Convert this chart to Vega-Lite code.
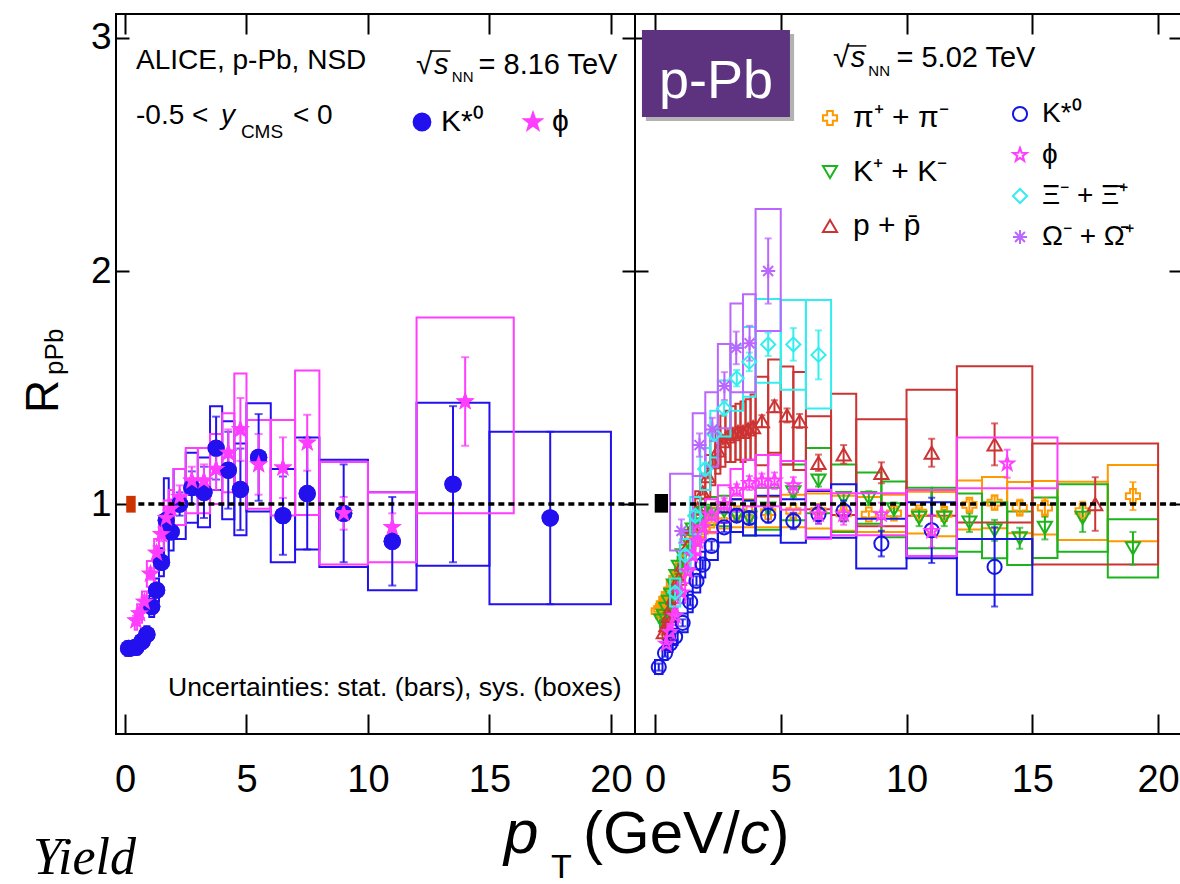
{
"$schema": "https://vega.github.io/schema/vega-lite/v6.json",
"background": "white",
"padding": {"left": 20, "top": 12, "right": 0, "bottom": 0},
"bounds": "flush",
"spacing": 0,
"config": {
  "view": {"stroke": "black", "strokeWidth": 2},
  "font": "Liberation Sans",
  "text": {"font": "Liberation Sans", "color": "black"},
  "axis": {"labelFont": "Liberation Sans", "labelColor": "black", "tickColor": "black", "domain": false, "grid": false},
  "legend": {"labelFont": "Liberation Sans", "labelColor": "black"}
},
"datasets": {
  "left": [
    {"s":"K*⁰","x":0.15,"y":0.38,"sl":0.368,"sh":0.392,"xl":0,"xh":0.3,"yl":0.35,"yh":0.41},
    {"s":"K*⁰","x":0.45,"y":0.385,"sl":0.373,"sh":0.397,"xl":0.3,"xh":0.6,"yl":0.355,"yh":0.415},
    {"s":"K*⁰","x":0.7,"y":0.41,"sl":0.395,"sh":0.425,"xl":0.6,"xh":0.8,"yl":0.38,"yh":0.44},
    {"s":"K*⁰","x":0.9,"y":0.44,"sl":0.425,"sh":0.455,"xl":0.8,"xh":1.0,"yl":0.405,"yh":0.475},
    {"s":"K*⁰","x":1.1,"y":0.56,"sl":0.54,"sh":0.58,"xl":1.0,"xh":1.2,"yl":0.515,"yh":0.605},
    {"s":"K*⁰","x":1.3,"y":0.63,"sl":0.61,"sh":0.65,"xl":1.2,"xh":1.4,"yl":0.58,"yh":0.68},
    {"s":"K*⁰","x":1.5,"y":0.75,"sl":0.725,"sh":0.775,"xl":1.4,"xh":1.6,"yl":0.69,"yh":0.81},
    {"s":"K*⁰","x":1.7,"y":0.93,"sl":0.9,"sh":0.96,"xl":1.6,"xh":1.8,"yl":0.75,"yh":1.11},
    {"s":"K*⁰","x":1.9,"y":0.88,"sl":0.85,"sh":0.91,"xl":1.8,"xh":2.0,"yl":0.8,"yh":0.96},
    {"s":"K*⁰","x":2.25,"y":1.0,"sl":0.95,"sh":1.05,"xl":2.0,"xh":2.5,"yl":0.85,"yh":1.15},
    {"s":"K*⁰","x":2.75,"y":1.07,"sl":1.0,"sh":1.14,"xl":2.5,"xh":3.0,"yl":0.92,"yh":1.22},
    {"s":"K*⁰","x":3.25,"y":1.05,"sl":0.94,"sh":1.16,"xl":3.0,"xh":3.5,"yl":0.9,"yh":1.2},
    {"s":"K*⁰","x":3.75,"y":1.24,"sl":1.105,"sh":1.375,"xl":3.5,"xh":4.0,"yl":1.06,"yh":1.42},
    {"s":"K*⁰","x":4.25,"y":1.145,"sl":0.98,"sh":1.31,"xl":4.0,"xh":4.5,"yl":0.935,"yh":1.355},
    {"s":"K*⁰","x":4.75,"y":1.063,"sl":0.888,"sh":1.238,"xl":4.5,"xh":5.0,"yl":0.866,"yh":1.26},
    {"s":"K*⁰","x":5.5,"y":1.2,"sl":1.014,"sh":1.386,"xl":5,"xh":6,"yl":0.968,"yh":1.432},
    {"s":"K*⁰","x":6.5,"y":0.95,"sl":0.782,"sh":1.118,"xl":6,"xh":7,"yl":0.75,"yh":1.15},
    {"s":"K*⁰","x":7.5,"y":1.045,"sl":0.805,"sh":1.285,"xl":7,"xh":8,"yl":0.805,"yh":1.285},
    {"s":"K*⁰","x":9,"y":0.96,"sl":0.75,"sh":1.17,"xl":8,"xh":10,"yl":0.73,"yh":1.19},
    {"s":"K*⁰","x":11,"y":0.84,"sl":0.65,"sh":1.03,"xl":10,"xh":12,"yl":0.63,"yh":1.05},
    {"s":"K*⁰","x":13.5,"y":1.085,"sl":0.75,"sh":1.42,"xl":12,"xh":15,"yl":0.735,"yh":1.435},
    {"s":"K*⁰","x":17.5,"y":0.94,"sl":0.57,"sh":1.31,"xl":15,"xh":20,"yl":0.57,"yh":1.31},
    {"s":"ϕ","x":0.45,"y":0.5,"sl":0.48,"sh":0.52,"xl":0.4,"xh":0.5,"yl":0.46,"yh":0.54},
    {"s":"ϕ","x":0.6,"y":0.53,"sl":0.51,"sh":0.55,"xl":0.5,"xh":0.7,"yl":0.49,"yh":0.57},
    {"s":"ϕ","x":0.8,"y":0.58,"sl":0.56,"sh":0.6,"xl":0.7,"xh":0.9,"yl":0.535,"yh":0.625},
    {"s":"ϕ","x":1.05,"y":0.7,"sl":0.675,"sh":0.725,"xl":0.9,"xh":1.2,"yl":0.645,"yh":0.755},
    {"s":"ϕ","x":1.3,"y":0.79,"sl":0.76,"sh":0.82,"xl":1.2,"xh":1.4,"yl":0.73,"yh":0.85},
    {"s":"ϕ","x":1.5,"y":0.87,"sl":0.84,"sh":0.9,"xl":1.4,"xh":1.6,"yl":0.8,"yh":0.94},
    {"s":"ϕ","x":1.7,"y":0.94,"sl":0.905,"sh":0.975,"xl":1.6,"xh":1.8,"yl":0.865,"yh":1.015},
    {"s":"ϕ","x":1.9,"y":0.98,"sl":0.94,"sh":1.02,"xl":1.8,"xh":2.0,"yl":0.9,"yh":1.06},
    {"s":"ϕ","x":2.25,"y":1.03,"sl":0.98,"sh":1.08,"xl":2.0,"xh":2.5,"yl":0.91,"yh":1.15},
    {"s":"ϕ","x":2.75,"y":1.1,"sl":1.04,"sh":1.16,"xl":2.5,"xh":3.0,"yl":0.96,"yh":1.24},
    {"s":"ϕ","x":3.25,"y":1.1,"sl":1.03,"sh":1.17,"xl":3.0,"xh":3.5,"yl":0.96,"yh":1.24},
    {"s":"ϕ","x":3.75,"y":1.15,"sl":1.06,"sh":1.24,"xl":3.5,"xh":4.0,"yl":1.0,"yh":1.3},
    {"s":"ϕ","x":4.25,"y":1.22,"sl":1.12,"sh":1.32,"xl":4.0,"xh":4.5,"yl":1.05,"yh":1.39},
    {"s":"ϕ","x":4.75,"y":1.32,"sl":1.185,"sh":1.455,"xl":4.5,"xh":5.0,"yl":1.08,"yh":1.56},
    {"s":"ϕ","x":5.5,"y":1.17,"sl":1.04,"sh":1.3,"xl":5,"xh":6,"yl":0.98,"yh":1.36},
    {"s":"ϕ","x":6.5,"y":1.156,"sl":1.026,"sh":1.286,"xl":6,"xh":7,"yl":0.951,"yh":1.361},
    {"s":"ϕ","x":7.5,"y":1.263,"sl":1.143,"sh":1.383,"xl":7,"xh":8,"yl":0.953,"yh":1.573},
    {"s":"ϕ","x":9,"y":0.96,"sl":0.89,"sh":1.03,"xl":8,"xh":10,"yl":0.74,"yh":1.18},
    {"s":"ϕ","x":11,"y":0.9,"sl":0.84,"sh":0.96,"xl":10,"xh":12,"yl":0.75,"yh":1.05},
    {"s":"ϕ","x":14,"y":1.44,"sl":1.25,"sh":1.63,"xl":12,"xh":16,"yl":0.96,"yh":1.8}
  ],
  "r1": [
    {"s":"π⁺ + π⁻","x":0.15,"y":0.54,"sl":0.53,"sh":0.55,"xl":0.1,"xh":0.2,"yl":0.51,"yh":0.57},
    {"s":"π⁺ + π⁻","x":0.25,"y":0.55,"sl":0.54,"sh":0.56,"xl":0.2,"xh":0.3,"yl":0.52,"yh":0.58},
    {"s":"π⁺ + π⁻","x":0.35,"y":0.57,"sl":0.56,"sh":0.58,"xl":0.3,"xh":0.4,"yl":0.54,"yh":0.6},
    {"s":"π⁺ + π⁻","x":0.45,"y":0.59,"sl":0.58,"sh":0.6,"xl":0.4,"xh":0.5,"yl":0.56,"yh":0.62},
    {"s":"π⁺ + π⁻","x":0.55,"y":0.61,"sl":0.6,"sh":0.62,"xl":0.5,"xh":0.6,"yl":0.575,"yh":0.645},
    {"s":"π⁺ + π⁻","x":0.65,"y":0.63,"sl":0.62,"sh":0.64,"xl":0.6,"xh":0.7,"yl":0.595,"yh":0.665},
    {"s":"π⁺ + π⁻","x":0.75,"y":0.66,"sl":0.65,"sh":0.67,"xl":0.7,"xh":0.8,"yl":0.625,"yh":0.695},
    {"s":"π⁺ + π⁻","x":0.85,"y":0.68,"sl":0.67,"sh":0.69,"xl":0.8,"xh":0.9,"yl":0.64,"yh":0.72},
    {"s":"π⁺ + π⁻","x":0.95,"y":0.7,"sl":0.69,"sh":0.71,"xl":0.9,"xh":1.0,"yl":0.66,"yh":0.74},
    {"s":"π⁺ + π⁻","x":1.1,"y":0.74,"sl":0.73,"sh":0.75,"xl":1.0,"xh":1.2,"yl":0.7,"yh":0.78},
    {"s":"π⁺ + π⁻","x":1.3,"y":0.79,"sl":0.78,"sh":0.8,"xl":1.2,"xh":1.4,"yl":0.745,"yh":0.835},
    {"s":"π⁺ + π⁻","x":1.5,"y":0.84,"sl":0.83,"sh":0.85,"xl":1.4,"xh":1.6,"yl":0.795,"yh":0.885},
    {"s":"π⁺ + π⁻","x":1.7,"y":0.87,"sl":0.86,"sh":0.88,"xl":1.6,"xh":1.8,"yl":0.82,"yh":0.92},
    {"s":"π⁺ + π⁻","x":1.9,"y":0.9,"sl":0.89,"sh":0.91,"xl":1.8,"xh":2.0,"yl":0.85,"yh":0.95},
    {"s":"π⁺ + π⁻","x":2.25,"y":0.93,"sl":0.92,"sh":0.94,"xl":2.0,"xh":2.5,"yl":0.875,"yh":0.985},
    {"s":"π⁺ + π⁻","x":2.75,"y":0.95,"sl":0.94,"sh":0.96,"xl":2.5,"xh":3.0,"yl":0.895,"yh":1.005},
    {"s":"π⁺ + π⁻","x":3.25,"y":0.96,"sl":0.95,"sh":0.97,"xl":3.0,"xh":3.5,"yl":0.9,"yh":1.02},
    {"s":"π⁺ + π⁻","x":3.75,"y":0.96,"sl":0.95,"sh":0.97,"xl":3.5,"xh":4.0,"yl":0.9,"yh":1.02},
    {"s":"π⁺ + π⁻","x":4.5,"y":0.965,"sl":0.955,"sh":0.975,"xl":4,"xh":5,"yl":0.9,"yh":1.03},
    {"s":"π⁺ + π⁻","x":5.5,"y":0.97,"sl":0.96,"sh":0.98,"xl":5,"xh":6,"yl":0.9,"yh":1.04},
    {"s":"π⁺ + π⁻","x":6.5,"y":0.97,"sl":0.955,"sh":0.985,"xl":6,"xh":7,"yl":0.895,"yh":1.045},
    {"s":"π⁺ + π⁻","x":7.5,"y":0.96,"sl":0.945,"sh":0.975,"xl":7,"xh":8,"yl":0.885,"yh":1.035},
    {"s":"π⁺ + π⁻","x":8.5,"y":0.955,"sl":0.94,"sh":0.97,"xl":8,"xh":9,"yl":0.88,"yh":1.03},
    {"s":"π⁺ + π⁻","x":9.5,"y":0.96,"sl":0.94,"sh":0.98,"xl":9,"xh":10,"yl":0.88,"yh":1.04},
    {"s":"π⁺ + π⁻","x":10.5,"y":0.963,"sl":0.943,"sh":0.983,"xl":10,"xh":11,"yl":0.873,"yh":1.053},
    {"s":"π⁺ + π⁻","x":11.5,"y":0.957,"sl":0.937,"sh":0.977,"xl":11,"xh":12,"yl":0.862,"yh":1.052},
    {"s":"π⁺ + π⁻","x":12.5,"y":0.996,"sl":0.971,"sh":1.021,"xl":12,"xh":13,"yl":0.891,"yh":1.101},
    {"s":"π⁺ + π⁻","x":13.5,"y":1.006,"sl":0.976,"sh":1.036,"xl":13,"xh":14,"yl":0.896,"yh":1.116},
    {"s":"π⁺ + π⁻","x":14.5,"y":0.984,"sl":0.949,"sh":1.019,"xl":14,"xh":15,"yl":0.874,"yh":1.094},
    {"s":"π⁺ + π⁻","x":15.5,"y":0.984,"sl":0.944,"sh":1.024,"xl":15,"xh":16,"yl":0.869,"yh":1.099},
    {"s":"π⁺ + π⁻","x":17,"y":0.97,"sl":0.93,"sh":1.01,"xl":16,"xh":18,"yl":0.845,"yh":1.095},
    {"s":"π⁺ + π⁻","x":19,"y":1.034,"sl":0.974,"sh":1.094,"xl":18,"xh":20,"yl":0.84,"yh":1.167},
    {"s":"K⁺ + K⁻","x":0.25,"y":0.5,"sl":0.49,"sh":0.51,"xl":0.2,"xh":0.3,"yl":0.47,"yh":0.53},
    {"s":"K⁺ + K⁻","x":0.35,"y":0.52,"sl":0.51,"sh":0.53,"xl":0.3,"xh":0.4,"yl":0.49,"yh":0.55},
    {"s":"K⁺ + K⁻","x":0.45,"y":0.55,"sl":0.54,"sh":0.56,"xl":0.4,"xh":0.5,"yl":0.515,"yh":0.585},
    {"s":"K⁺ + K⁻","x":0.55,"y":0.58,"sl":0.57,"sh":0.59,"xl":0.5,"xh":0.6,"yl":0.545,"yh":0.615},
    {"s":"K⁺ + K⁻","x":0.65,"y":0.61,"sl":0.6,"sh":0.62,"xl":0.6,"xh":0.7,"yl":0.575,"yh":0.645},
    {"s":"K⁺ + K⁻","x":0.75,"y":0.65,"sl":0.64,"sh":0.66,"xl":0.7,"xh":0.8,"yl":0.61,"yh":0.69},
    {"s":"K⁺ + K⁻","x":0.85,"y":0.69,"sl":0.68,"sh":0.7,"xl":0.8,"xh":0.9,"yl":0.65,"yh":0.73},
    {"s":"K⁺ + K⁻","x":0.95,"y":0.73,"sl":0.72,"sh":0.74,"xl":0.9,"xh":1.0,"yl":0.685,"yh":0.775},
    {"s":"K⁺ + K⁻","x":1.1,"y":0.78,"sl":0.77,"sh":0.79,"xl":1.0,"xh":1.2,"yl":0.735,"yh":0.825},
    {"s":"K⁺ + K⁻","x":1.3,"y":0.84,"sl":0.83,"sh":0.85,"xl":1.2,"xh":1.4,"yl":0.79,"yh":0.89},
    {"s":"K⁺ + K⁻","x":1.5,"y":0.89,"sl":0.88,"sh":0.9,"xl":1.4,"xh":1.6,"yl":0.835,"yh":0.945},
    {"s":"K⁺ + K⁻","x":1.7,"y":0.93,"sl":0.92,"sh":0.94,"xl":1.6,"xh":1.8,"yl":0.875,"yh":0.985},
    {"s":"K⁺ + K⁻","x":1.9,"y":0.96,"sl":0.95,"sh":0.97,"xl":1.8,"xh":2.0,"yl":0.9,"yh":1.02},
    {"s":"K⁺ + K⁻","x":2.25,"y":0.97,"sl":0.96,"sh":0.98,"xl":2.0,"xh":2.5,"yl":0.91,"yh":1.03},
    {"s":"K⁺ + K⁻","x":2.75,"y":0.97,"sl":0.96,"sh":0.98,"xl":2.5,"xh":3.0,"yl":0.905,"yh":1.035},
    {"s":"K⁺ + K⁻","x":3.25,"y":0.95,"sl":0.935,"sh":0.965,"xl":3.0,"xh":3.5,"yl":0.88,"yh":1.02},
    {"s":"K⁺ + K⁻","x":3.75,"y":0.94,"sl":0.925,"sh":0.955,"xl":3.5,"xh":4.0,"yl":0.865,"yh":1.015},
    {"s":"K⁺ + K⁻","x":4.5,"y":0.98,"sl":0.96,"sh":1.0,"xl":4,"xh":5,"yl":0.89,"yh":1.07},
    {"s":"K⁺ + K⁻","x":5.5,"y":1.05,"sl":1.03,"sh":1.07,"xl":5,"xh":6,"yl":0.93,"yh":1.17},
    {"s":"K⁺ + K⁻","x":6.5,"y":1.1,"sl":1.075,"sh":1.125,"xl":6,"xh":7,"yl":0.96,"yh":1.24},
    {"s":"K⁺ + K⁻","x":7.5,"y":1.025,"sl":1.0,"sh":1.05,"xl":7,"xh":8,"yl":0.88,"yh":1.17},
    {"s":"K⁺ + K⁻","x":8.5,"y":1.025,"sl":0.995,"sh":1.055,"xl":8,"xh":9,"yl":0.915,"yh":1.135},
    {"s":"K⁺ + K⁻","x":9.5,"y":0.977,"sl":0.947,"sh":1.007,"xl":9,"xh":10,"yl":0.857,"yh":1.097},
    {"s":"K⁺ + K⁻","x":10.5,"y":0.94,"sl":0.905,"sh":0.975,"xl":10,"xh":11,"yl":0.81,"yh":1.07},
    {"s":"K⁺ + K⁻","x":11.5,"y":0.94,"sl":0.905,"sh":0.975,"xl":11,"xh":12,"yl":0.81,"yh":1.07},
    {"s":"K⁺ + K⁻","x":12.5,"y":0.92,"sl":0.88,"sh":0.96,"xl":12,"xh":13,"yl":0.795,"yh":1.045},
    {"s":"K⁺ + K⁻","x":13.5,"y":0.887,"sl":0.842,"sh":0.932,"xl":13,"xh":14,"yl":0.767,"yh":1.007},
    {"s":"K⁺ + K⁻","x":14.5,"y":0.853,"sl":0.808,"sh":0.898,"xl":14,"xh":15,"yl":0.738,"yh":0.968},
    {"s":"K⁺ + K⁻","x":15.5,"y":0.898,"sl":0.848,"sh":0.948,"xl":15,"xh":16,"yl":0.768,"yh":1.028},
    {"s":"K⁺ + K⁻","x":17,"y":0.94,"sl":0.88,"sh":1.0,"xl":16,"xh":18,"yl":0.795,"yh":1.085},
    {"s":"K⁺ + K⁻","x":19,"y":0.81,"sl":0.74,"sh":0.88,"xl":18,"xh":20,"yl":0.685,"yh":0.935},
    {"s":"p + p̄","x":0.35,"y":0.45,"sl":0.44,"sh":0.46,"xl":0.3,"xh":0.4,"yl":0.42,"yh":0.48},
    {"s":"p + p̄","x":0.45,"y":0.48,"sl":0.47,"sh":0.49,"xl":0.4,"xh":0.5,"yl":0.445,"yh":0.515},
    {"s":"p + p̄","x":0.55,"y":0.52,"sl":0.51,"sh":0.53,"xl":0.5,"xh":0.6,"yl":0.485,"yh":0.555},
    {"s":"p + p̄","x":0.65,"y":0.56,"sl":0.55,"sh":0.57,"xl":0.6,"xh":0.7,"yl":0.52,"yh":0.6},
    {"s":"p + p̄","x":0.75,"y":0.6,"sl":0.59,"sh":0.61,"xl":0.7,"xh":0.8,"yl":0.56,"yh":0.64},
    {"s":"p + p̄","x":0.85,"y":0.64,"sl":0.63,"sh":0.65,"xl":0.8,"xh":0.9,"yl":0.595,"yh":0.685},
    {"s":"p + p̄","x":0.95,"y":0.68,"sl":0.67,"sh":0.69,"xl":0.9,"xh":1.0,"yl":0.63,"yh":0.73},
    {"s":"p + p̄","x":1.1,"y":0.74,"sl":0.73,"sh":0.75,"xl":1.0,"xh":1.2,"yl":0.685,"yh":0.795},
    {"s":"p + p̄","x":1.3,"y":0.82,"sl":0.81,"sh":0.83,"xl":1.2,"xh":1.4,"yl":0.76,"yh":0.88},
    {"s":"p + p̄","x":1.5,"y":0.9,"sl":0.89,"sh":0.91,"xl":1.4,"xh":1.6,"yl":0.835,"yh":0.965},
    {"s":"p + p̄","x":1.7,"y":0.98,"sl":0.97,"sh":0.99,"xl":1.6,"xh":1.8,"yl":0.905,"yh":1.055},
    {"s":"p + p̄","x":1.9,"y":1.05,"sl":1.04,"sh":1.06,"xl":1.8,"xh":2.0,"yl":0.97,"yh":1.13},
    {"s":"p + p̄","x":2.1,"y":1.12,"sl":1.11,"sh":1.13,"xl":2.0,"xh":2.2,"yl":1.03,"yh":1.21},
    {"s":"p + p̄","x":2.3,"y":1.18,"sl":1.165,"sh":1.195,"xl":2.2,"xh":2.4,"yl":1.08,"yh":1.28},
    {"s":"p + p̄","x":2.5,"y":1.23,"sl":1.215,"sh":1.245,"xl":2.4,"xh":2.6,"yl":1.13,"yh":1.33},
    {"s":"p + p̄","x":2.7,"y":1.27,"sl":1.255,"sh":1.285,"xl":2.6,"xh":2.8,"yl":1.16,"yh":1.38},
    {"s":"p + p̄","x":2.9,"y":1.29,"sl":1.275,"sh":1.305,"xl":2.8,"xh":3.0,"yl":1.18,"yh":1.4},
    {"s":"p + p̄","x":3.1,"y":1.3,"sl":1.28,"sh":1.32,"xl":3.0,"xh":3.2,"yl":1.18,"yh":1.42},
    {"s":"p + p̄","x":3.3,"y":1.31,"sl":1.29,"sh":1.33,"xl":3.2,"xh":3.4,"yl":1.19,"yh":1.43},
    {"s":"p + p̄","x":3.5,"y":1.31,"sl":1.29,"sh":1.33,"xl":3.4,"xh":3.6,"yl":1.18,"yh":1.44},
    {"s":"p + p̄","x":3.7,"y":1.32,"sl":1.3,"sh":1.34,"xl":3.6,"xh":3.8,"yl":1.19,"yh":1.45},
    {"s":"p + p̄","x":3.9,"y":1.33,"sl":1.31,"sh":1.35,"xl":3.8,"xh":4.0,"yl":1.19,"yh":1.47},
    {"s":"p + p̄","x":4.25,"y":1.356,"sl":1.331,"sh":1.381,"xl":4.0,"xh":4.5,"yl":1.166,"yh":1.546},
    {"s":"p + p̄","x":4.75,"y":1.42,"sl":1.395,"sh":1.445,"xl":4.5,"xh":5.0,"yl":1.22,"yh":1.62},
    {"s":"p + p̄","x":5.25,"y":1.38,"sl":1.35,"sh":1.41,"xl":5.0,"xh":5.5,"yl":1.17,"yh":1.59},
    {"s":"p + p̄","x":5.75,"y":1.356,"sl":1.326,"sh":1.386,"xl":5.5,"xh":6.0,"yl":1.146,"yh":1.566},
    {"s":"p + p̄","x":6.5,"y":1.177,"sl":1.142,"sh":1.212,"xl":6,"xh":7,"yl":0.977,"yh":1.377},
    {"s":"p + p̄","x":7.5,"y":1.213,"sl":1.173,"sh":1.253,"xl":7,"xh":8,"yl":0.953,"yh":1.473},
    {"s":"p + p̄","x":9,"y":1.134,"sl":1.089,"sh":1.179,"xl":8,"xh":10,"yl":0.904,"yh":1.364},
    {"s":"p + p̄","x":11,"y":1.22,"sl":1.16,"sh":1.28,"xl":10,"xh":12,"yl":0.95,"yh":1.49},
    {"s":"p + p̄","x":13.5,"y":1.256,"sl":1.166,"sh":1.346,"xl":12,"xh":15,"yl":0.921,"yh":1.591},
    {"s":"p + p̄","x":17.5,"y":1.0,"sl":0.885,"sh":1.115,"xl":15,"xh":20,"yl":0.74,"yh":1.26}
  ],
  "r2": [
    {"s":"K*⁰","x":0.15,"y":0.3,"sl":0.285,"sh":0.315,"xl":0,"xh":0.3,"yl":0.27,"yh":0.33},
    {"s":"K*⁰","x":0.4,"y":0.36,"sl":0.345,"sh":0.375,"xl":0.3,"xh":0.5,"yl":0.33,"yh":0.39},
    {"s":"K*⁰","x":0.6,"y":0.4,"sl":0.385,"sh":0.415,"xl":0.5,"xh":0.7,"yl":0.365,"yh":0.435},
    {"s":"K*⁰","x":0.8,"y":0.43,"sl":0.415,"sh":0.445,"xl":0.7,"xh":0.9,"yl":0.395,"yh":0.465},
    {"s":"K*⁰","x":1.1,"y":0.49,"sl":0.475,"sh":0.505,"xl":0.9,"xh":1.3,"yl":0.45,"yh":0.53},
    {"s":"K*⁰","x":1.4,"y":0.58,"sl":0.565,"sh":0.595,"xl":1.3,"xh":1.5,"yl":0.535,"yh":0.625},
    {"s":"K*⁰","x":1.65,"y":0.67,"sl":0.65,"sh":0.69,"xl":1.5,"xh":1.8,"yl":0.62,"yh":0.72},
    {"s":"K*⁰","x":1.9,"y":0.74,"sl":0.72,"sh":0.76,"xl":1.8,"xh":2.0,"yl":0.685,"yh":0.795},
    {"s":"K*⁰","x":2.25,"y":0.82,"sl":0.8,"sh":0.84,"xl":2.0,"xh":2.5,"yl":0.76,"yh":0.88},
    {"s":"K*⁰","x":2.75,"y":0.9,"sl":0.88,"sh":0.92,"xl":2.5,"xh":3.0,"yl":0.835,"yh":0.965},
    {"s":"K*⁰","x":3.25,"y":0.95,"sl":0.925,"sh":0.975,"xl":3.0,"xh":3.5,"yl":0.88,"yh":1.02},
    {"s":"K*⁰","x":3.75,"y":0.94,"sl":0.915,"sh":0.965,"xl":3.5,"xh":4.0,"yl":0.865,"yh":1.015},
    {"s":"K*⁰","x":4.5,"y":0.95,"sl":0.92,"sh":0.98,"xl":4,"xh":5,"yl":0.865,"yh":1.035},
    {"s":"K*⁰","x":5.5,"y":0.927,"sl":0.892,"sh":0.962,"xl":5,"xh":6,"yl":0.834,"yh":1.02},
    {"s":"K*⁰","x":6.5,"y":0.956,"sl":0.916,"sh":0.996,"xl":6,"xh":7,"yl":0.856,"yh":1.056},
    {"s":"K*⁰","x":7.5,"y":0.97,"sl":0.925,"sh":1.015,"xl":7,"xh":8,"yl":0.855,"yh":1.085},
    {"s":"K*⁰","x":9,"y":0.83,"sl":0.775,"sh":0.885,"xl":8,"xh":10,"yl":0.723,"yh":0.937},
    {"s":"K*⁰","x":11,"y":0.887,"sl":0.747,"sh":1.027,"xl":10,"xh":12,"yl":0.767,"yh":1.007},
    {"s":"K*⁰","x":13.5,"y":0.73,"sl":0.56,"sh":0.9,"xl":12,"xh":15,"yl":0.61,"yh":0.85},
    {"s":"ϕ","x":0.45,"y":0.4,"sl":0.385,"sh":0.415,"xl":0.4,"xh":0.5,"yl":0.37,"yh":0.43},
    {"s":"ϕ","x":0.6,"y":0.45,"sl":0.435,"sh":0.465,"xl":0.5,"xh":0.7,"yl":0.415,"yh":0.485},
    {"s":"ϕ","x":0.8,"y":0.52,"sl":0.505,"sh":0.535,"xl":0.7,"xh":0.9,"yl":0.48,"yh":0.56},
    {"s":"ϕ","x":1.05,"y":0.62,"sl":0.605,"sh":0.635,"xl":0.9,"xh":1.2,"yl":0.575,"yh":0.665},
    {"s":"ϕ","x":1.3,"y":0.71,"sl":0.695,"sh":0.725,"xl":1.2,"xh":1.4,"yl":0.66,"yh":0.76},
    {"s":"ϕ","x":1.5,"y":0.78,"sl":0.76,"sh":0.8,"xl":1.4,"xh":1.6,"yl":0.725,"yh":0.835},
    {"s":"ϕ","x":1.7,"y":0.84,"sl":0.82,"sh":0.86,"xl":1.6,"xh":1.8,"yl":0.78,"yh":0.9},
    {"s":"ϕ","x":1.9,"y":0.9,"sl":0.88,"sh":0.92,"xl":1.8,"xh":2.0,"yl":0.835,"yh":0.965},
    {"s":"ϕ","x":2.25,"y":0.95,"sl":0.93,"sh":0.97,"xl":2.0,"xh":2.5,"yl":0.88,"yh":1.02},
    {"s":"ϕ","x":2.75,"y":1.0,"sl":0.975,"sh":1.025,"xl":2.5,"xh":3.0,"yl":0.92,"yh":1.08},
    {"s":"ϕ","x":3.25,"y":1.06,"sl":1.035,"sh":1.085,"xl":3.0,"xh":3.5,"yl":0.97,"yh":1.15},
    {"s":"ϕ","x":3.75,"y":1.09,"sl":1.06,"sh":1.12,"xl":3.5,"xh":4.0,"yl":0.99,"yh":1.19},
    {"s":"ϕ","x":4.25,"y":1.1,"sl":1.07,"sh":1.13,"xl":4.0,"xh":4.5,"yl":0.99,"yh":1.21},
    {"s":"ϕ","x":4.75,"y":1.1,"sl":1.065,"sh":1.135,"xl":4.5,"xh":5.0,"yl":0.99,"yh":1.21},
    {"s":"ϕ","x":5.5,"y":1.08,"sl":1.045,"sh":1.115,"xl":5,"xh":6,"yl":0.975,"yh":1.185},
    {"s":"ϕ","x":6.5,"y":0.956,"sl":0.916,"sh":0.996,"xl":6,"xh":7,"yl":0.851,"yh":1.061},
    {"s":"ϕ","x":7.5,"y":0.956,"sl":0.911,"sh":1.001,"xl":7,"xh":8,"yl":0.866,"yh":1.046},
    {"s":"ϕ","x":9,"y":0.956,"sl":0.906,"sh":1.006,"xl":8,"xh":10,"yl":0.866,"yh":1.046},
    {"s":"ϕ","x":11,"y":0.884,"sl":0.814,"sh":0.954,"xl":10,"xh":12,"yl":0.777,"yh":1.06},
    {"s":"ϕ","x":14,"y":1.173,"sl":1.113,"sh":1.233,"xl":12,"xh":16,"yl":1.068,"yh":1.285},
    {"s":"Ξ⁻ + Ξ̄⁺","x":0.8,"y":0.62,"sl":0.6,"sh":0.64,"xl":0.6,"xh":1.0,"yl":0.56,"yh":0.68},
    {"s":"Ξ⁻ + Ξ̄⁺","x":1.2,"y":0.78,"sl":0.76,"sh":0.8,"xl":1.0,"xh":1.4,"yl":0.71,"yh":0.85},
    {"s":"Ξ⁻ + Ξ̄⁺","x":1.6,"y":0.95,"sl":0.93,"sh":0.97,"xl":1.4,"xh":1.8,"yl":0.87,"yh":1.03},
    {"s":"Ξ⁻ + Ξ̄⁺","x":2.0,"y":1.15,"sl":1.125,"sh":1.175,"xl":1.8,"xh":2.2,"yl":1.06,"yh":1.24},
    {"s":"Ξ⁻ + Ξ̄⁺","x":2.35,"y":1.3,"sl":1.27,"sh":1.33,"xl":2.2,"xh":2.5,"yl":1.2,"yh":1.4},
    {"s":"Ξ⁻ + Ξ̄⁺","x":2.75,"y":1.41,"sl":1.38,"sh":1.44,"xl":2.5,"xh":3.0,"yl":1.29,"yh":1.53},
    {"s":"Ξ⁻ + Ξ̄⁺","x":3.25,"y":1.54,"sl":1.505,"sh":1.575,"xl":3.0,"xh":3.5,"yl":1.4,"yh":1.68},
    {"s":"Ξ⁻ + Ξ̄⁺","x":3.75,"y":1.61,"sl":1.57,"sh":1.65,"xl":3.5,"xh":4.0,"yl":1.46,"yh":1.76},
    {"s":"Ξ⁻ + Ξ̄⁺","x":4.5,"y":1.685,"sl":1.635,"sh":1.735,"xl":4,"xh":5,"yl":1.52,"yh":1.88},
    {"s":"Ξ⁻ + Ξ̄⁺","x":5.5,"y":1.685,"sl":1.615,"sh":1.755,"xl":5,"xh":6,"yl":1.49,"yh":1.876},
    {"s":"Ξ⁻ + Ξ̄⁺","x":6.5,"y":1.64,"sl":1.535,"sh":1.745,"xl":6,"xh":7,"yl":1.41,"yh":1.876},
    {"s":"Ω⁻ + Ω̄⁺","x":1.05,"y":0.884,"sl":0.834,"sh":0.934,"xl":0.6,"xh":1.5,"yl":0.8,"yh":1.13},
    {"s":"Ω⁻ + Ω̄⁺","x":1.77,"y":1.253,"sl":1.203,"sh":1.303,"xl":1.5,"xh":2.0,"yl":1.12,"yh":1.39},
    {"s":"Ω⁻ + Ω̄⁺","x":2.28,"y":1.32,"sl":1.27,"sh":1.37,"xl":2.0,"xh":2.5,"yl":1.16,"yh":1.48},
    {"s":"Ω⁻ + Ω̄⁺","x":2.76,"y":1.506,"sl":1.446,"sh":1.566,"xl":2.5,"xh":3.0,"yl":1.325,"yh":1.687},
    {"s":"Ω⁻ + Ω̄⁺","x":3.23,"y":1.67,"sl":1.6,"sh":1.74,"xl":3.0,"xh":3.5,"yl":1.48,"yh":1.86},
    {"s":"Ω⁻ + Ω̄⁺","x":3.76,"y":1.69,"sl":1.615,"sh":1.765,"xl":3.5,"xh":4.0,"yl":1.48,"yh":1.9},
    {"s":"Ω⁻ + Ω̄⁺","x":4.5,"y":2.0,"sl":1.86,"sh":2.14,"xl":4,"xh":5,"yl":1.742,"yh":2.266}
  ]
},
"resolve": {"scale": {"color": "independent", "shape": "independent", "stroke": "independent"}},
"hconcat": [
 {
  "width": 519, "height": 720,
  "resolve": {"axis": {"x": "independent", "y": "independent"}},
  "layer": [
   {"data": {"name": "left"},
    "mark": {"type": "point", "filled": true, "size": 300, "opacity": 1},
    "encoding": {
      "x": {"field": "x", "type": "quantitative", "scale": {"domain": [-0.37, 20.99], "nice": false, "zero": false},
            "axis": {"orient": "top", "values": [0,5,10,15,20], "tickSize": -20, "tickWidth": 2, "labels": false, "domain": false, "grid": false, "title": null}},
      "y": {"field": "y", "type": "quantitative", "scale": {"domain": [0.0129, 3.103], "nice": false, "zero": false},
            "axis": {"orient": "right", "values": [1,2,3], "tickSize": -13, "tickWidth": 2, "labels": false, "domain": false, "grid": false, "title": null}},
      "color": {"field": "s", "type": "nominal", "scale": {"domain": ["K*⁰", "ϕ"], "range": ["#2211EE", "#FF3DFF"]},
                "legend": {"orient": "none", "legendX": 291, "legendY": 93, "direction": "horizontal", "title": null, "labelFontSize": 30, "symbolSize": 300, "labelOffset": 4, "columnPadding": 34, "padding": 0}},
      "shape": {"field": "s", "type": "nominal", "scale": {"domain": ["K*⁰", "ϕ"], "range": ["circle", "M0,-1.15L0.27,-0.373L1.094,-0.355L0.437,0.143L0.676,0.93L0,0.46L-0.676,0.93L-0.437,0.143L-1.094,-0.355L-0.27,-0.373Z"]},
                "legend": {"orient": "none", "legendX": 291, "legendY": 93, "direction": "horizontal", "title": null, "labelFontSize": 30, "symbolSize": 300, "labelOffset": 4, "columnPadding": 34, "padding": 0}}
    }},
   {"data": {"name": "left"},
    "mark": {"type": "rect", "filled": false, "strokeWidth": 2},
    "encoding": {
      "x": {"field": "xl", "type": "quantitative", "scale": {"domain": [-0.37, 20.99], "nice": false, "zero": false},
            "axis": {"orient": "bottom", "values": [0,5,10,15,20], "tickSize": -20, "tickWidth": 2, "labelFontSize": 38, "labelPadding": 47, "labelFlush": false, "labelOverlap": false, "domain": false, "grid": false, "title": null}},
      "x2": {"field": "xh"},
      "y": {"field": "yl", "type": "quantitative", "scale": {"domain": [0.0129, 3.103], "nice": false, "zero": false},
            "axis": {"orient": "left", "values": [1,2,3], "tickSize": -13, "tickWidth": 2, "labelFontSize": 37, "labelPadding": 18, "labelFlush": false, "domain": false, "grid": false, "title": null}},
      "y2": {"field": "yh"},
      "color": {"field": "s", "type": "nominal", "scale": {"domain": ["K*⁰", "ϕ"], "range": ["#2211EE", "#FF3DFF"]}, "legend": null}
    }},
   {"data": {"name": "left"},
    "mark": {"type": "errorbar", "thickness": 2, "ticks": {"size": 8, "thickness": 2}},
    "encoding": {
      "x": {"field": "x", "type": "quantitative", "scale": {"domain": [-0.37, 20.99], "nice": false, "zero": false}, "axis": null},
      "y": {"field": "sl", "type": "quantitative", "scale": {"domain": [0.0129, 3.103], "nice": false, "zero": false}, "axis": null},
      "y2": {"field": "sh"},
      "color": {"field": "s", "type": "nominal", "scale": {"domain": ["K*⁰", "ϕ"], "range": ["#2211EE", "#FF3DFF"]}, "legend": null}
    }},
   {"data": {"name": "left"},
    "mark": {"type": "point", "filled": true, "size": 300, "opacity": 1},
    "encoding": {
      "x": {"field": "x", "type": "quantitative", "scale": {"domain": [-0.37, 20.99], "nice": false, "zero": false}, "axis": null},
      "y": {"field": "y", "type": "quantitative", "scale": {"domain": [0.0129, 3.103], "nice": false, "zero": false}, "axis": null},
      "color": {"field": "s", "type": "nominal", "scale": {"domain": ["K*⁰", "ϕ"], "range": ["#2211EE", "#FF3DFF"]}, "legend": null},
      "shape": {"field": "s", "type": "nominal", "scale": {"domain": ["K*⁰", "ϕ"], "range": ["circle", "M0,-1.15L0.27,-0.373L1.094,-0.355L0.437,0.143L0.676,0.93L0,0.46L-0.676,0.93L-0.437,0.143L-1.094,-0.355L-0.27,-0.373Z"]}, "legend": null}
    }},
   {"data": {"values": [{}]},
    "mark": {"type": "rule", "color": "black", "strokeWidth": 3.5, "strokeDash": [6, 4]},
    "encoding": {
      "x": {"datum": 0.55, "type": "quantitative", "scale": {"domain": [-0.37, 20.99], "nice": false, "zero": false}, "axis": null},
      "x2": {"datum": 20.99},
      "y": {"datum": 1, "type": "quantitative", "scale": {"domain": [0.0129, 3.103], "nice": false, "zero": false}, "axis": null}
    }},
   {"data": {"values": [{}]},
    "mark": {"type": "rect", "color": "#CC3300"},
    "encoding": {
      "x": {"datum": 0.05, "type": "quantitative", "scale": {"domain": [-0.37, 20.99], "nice": false, "zero": false}, "axis": null},
      "x2": {"datum": 0.44},
      "y": {"datum": 0.963, "type": "quantitative", "scale": {"domain": [0.0129, 3.103], "nice": false, "zero": false}, "axis": null},
      "y2": {"datum": 1.035}
    }},
   {"data": {"values": [{}]},
    "mark": {"type": "rule", "color": "black", "strokeWidth": 1.5},
    "encoding": {
      "x": {"datum": 12.55, "type": "quantitative", "scale": {"domain": [-0.37, 20.99], "nice": false, "zero": false}, "axis": null},
      "x2": {"datum": 13.4},
      "y": {"datum": 2.944, "type": "quantitative", "scale": {"domain": [0.0129, 3.103], "nice": false, "zero": false}, "axis": null}
    }},
   {"data": {"values": [{}]},
    "mark": {"type": "text", "text": "ALICE, p-Pb, NSD", "align": "left", "baseline": "alphabetic", "fontSize": 28},
    "encoding": {
      "x": {"datum": 0.453, "type": "quantitative", "scale": {"domain": [-0.37, 20.99], "nice": false, "zero": false}, "axis": null},
      "y": {"datum": 2.867, "type": "quantitative", "scale": {"domain": [0.0129, 3.103], "nice": false, "zero": false}, "axis": null}
    }},
   {"data": {"values": [{}]},
    "mark": {"type": "text", "text": "-0.5 <", "align": "left", "baseline": "alphabetic", "fontSize": 28},
    "encoding": {
      "x": {"datum": 0.453, "type": "quantitative", "scale": {"domain": [-0.37, 20.99], "nice": false, "zero": false}, "axis": null},
      "y": {"datum": 2.631, "type": "quantitative", "scale": {"domain": [0.0129, 3.103], "nice": false, "zero": false}, "axis": null}
    }},
   {"data": {"values": [{}]},
    "mark": {"type": "text", "text": "y", "align": "left", "baseline": "alphabetic", "fontSize": 28, "fontStyle": "italic"},
    "encoding": {
      "x": {"datum": 3.95, "type": "quantitative", "scale": {"domain": [-0.37, 20.99], "nice": false, "zero": false}, "axis": null},
      "y": {"datum": 2.631, "type": "quantitative", "scale": {"domain": [0.0129, 3.103], "nice": false, "zero": false}, "axis": null}
    }},
   {"data": {"values": [{}]},
    "mark": {"type": "text", "text": "CMS", "align": "left", "baseline": "alphabetic", "fontSize": 19},
    "encoding": {
      "x": {"datum": 4.77, "type": "quantitative", "scale": {"domain": [-0.37, 20.99], "nice": false, "zero": false}, "axis": null},
      "y": {"datum": 2.571, "type": "quantitative", "scale": {"domain": [0.0129, 3.103], "nice": false, "zero": false}, "axis": null}
    }},
   {"data": {"values": [{}]},
    "mark": {"type": "text", "text": "< 0", "align": "left", "baseline": "alphabetic", "fontSize": 28},
    "encoding": {
      "x": {"datum": 6.91, "type": "quantitative", "scale": {"domain": [-0.37, 20.99], "nice": false, "zero": false}, "axis": null},
      "y": {"datum": 2.631, "type": "quantitative", "scale": {"domain": [0.0129, 3.103], "nice": false, "zero": false}, "axis": null}
    }},
   {"data": {"values": [{}]},
    "mark": {"type": "text", "text": "√", "align": "left", "baseline": "alphabetic", "fontSize": 30},
    "encoding": {
      "x": {"datum": 11.98, "type": "quantitative", "scale": {"domain": [-0.37, 20.99], "nice": false, "zero": false}, "axis": null},
      "y": {"datum": 2.845, "type": "quantitative", "scale": {"domain": [0.0129, 3.103], "nice": false, "zero": false}, "axis": null}
    }},
   {"data": {"values": [{}]},
    "mark": {"type": "text", "text": "s", "align": "left", "baseline": "alphabetic", "fontSize": 29, "fontStyle": "italic"},
    "encoding": {
      "x": {"datum": 12.72, "type": "quantitative", "scale": {"domain": [-0.37, 20.99], "nice": false, "zero": false}, "axis": null},
      "y": {"datum": 2.845, "type": "quantitative", "scale": {"domain": [0.0129, 3.103], "nice": false, "zero": false}, "axis": null}
    }},
   {"data": {"values": [{}]},
    "mark": {"type": "text", "text": "NN", "align": "left", "baseline": "alphabetic", "fontSize": 15},
    "encoding": {
      "x": {"datum": 13.45, "type": "quantitative", "scale": {"domain": [-0.37, 20.99], "nice": false, "zero": false}, "axis": null},
      "y": {"datum": 2.811, "type": "quantitative", "scale": {"domain": [0.0129, 3.103], "nice": false, "zero": false}, "axis": null}
    }},
   {"data": {"values": [{}]},
    "mark": {"type": "text", "text": "= 8.16 TeV", "align": "left", "baseline": "alphabetic", "fontSize": 29},
    "encoding": {
      "x": {"datum": 14.55, "type": "quantitative", "scale": {"domain": [-0.37, 20.99], "nice": false, "zero": false}, "axis": null},
      "y": {"datum": 2.845, "type": "quantitative", "scale": {"domain": [0.0129, 3.103], "nice": false, "zero": false}, "axis": null}
    }},
   {"data": {"values": [{}]},
    "mark": {"type": "text", "text": "Uncertainties: stat. (bars), sys. (boxes)", "align": "left", "baseline": "alphabetic", "fontSize": 26.5},
    "encoding": {
      "x": {"datum": 1.77, "type": "quantitative", "scale": {"domain": [-0.37, 20.99], "nice": false, "zero": false}, "axis": null},
      "y": {"datum": 0.176, "type": "quantitative", "scale": {"domain": [0.0129, 3.103], "nice": false, "zero": false}, "axis": null}
    }},
   {"data": {"values": [{}]},
    "mark": {"type": "text", "text": "R", "align": "left", "baseline": "alphabetic", "fontSize": 46, "angle": 270},
    "encoding": {
      "x": {"datum": -2.757, "type": "quantitative", "scale": {"domain": [-0.37, 20.99], "nice": false, "zero": false}, "axis": null},
      "y": {"datum": 1.391, "type": "quantitative", "scale": {"domain": [0.0129, 3.103], "nice": false, "zero": false}, "axis": null}
    }},
   {"data": {"values": [{}]},
    "mark": {"type": "text", "text": "pPb", "align": "left", "baseline": "alphabetic", "fontSize": 26, "angle": 270},
    "encoding": {
      "x": {"datum": -2.551, "type": "quantitative", "scale": {"domain": [-0.37, 20.99], "nice": false, "zero": false}, "axis": null},
      "y": {"datum": 1.554, "type": "quantitative", "scale": {"domain": [0.0129, 3.103], "nice": false, "zero": false}, "axis": null}
    }},
   {"data": {"values": [{}]},
    "mark": {"type": "text", "text": "p", "align": "left", "baseline": "alphabetic", "fontSize": 62, "fontStyle": "italic"},
    "encoding": {
      "x": {"datum": 15.6, "type": "quantitative", "scale": {"domain": [-0.37, 20.99], "nice": false, "zero": false}, "axis": null},
      "y": {"datum": -0.498, "type": "quantitative", "scale": {"domain": [0.0129, 3.103], "nice": false, "zero": false}, "axis": null}
    }},
   {"data": {"values": [{}]},
    "mark": {"type": "text", "text": "T", "align": "left", "baseline": "alphabetic", "fontSize": 34},
    "encoding": {
      "x": {"datum": 17.53, "type": "quantitative", "scale": {"domain": [-0.37, 20.99], "nice": false, "zero": false}, "axis": null},
      "y": {"datum": -0.605, "type": "quantitative", "scale": {"domain": [0.0129, 3.103], "nice": false, "zero": false}, "axis": null}
    }},
   {"data": {"values": [{}]},
    "mark": {"type": "text", "text": "(GeV/", "align": "left", "baseline": "alphabetic", "fontSize": 60},
    "encoding": {
      "x": {"datum": 18.85, "type": "quantitative", "scale": {"domain": [-0.37, 20.99], "nice": false, "zero": false}, "axis": null},
      "y": {"datum": -0.498, "type": "quantitative", "scale": {"domain": [0.0129, 3.103], "nice": false, "zero": false}, "axis": null}
    }},
   {"data": {"values": [{}]},
    "mark": {"type": "text", "text": "c", "align": "left", "baseline": "alphabetic", "fontSize": 60, "fontStyle": "italic"},
    "encoding": {
      "x": {"datum": 25.3, "type": "quantitative", "scale": {"domain": [-0.37, 20.99], "nice": false, "zero": false}, "axis": null},
      "y": {"datum": -0.498, "type": "quantitative", "scale": {"domain": [0.0129, 3.103], "nice": false, "zero": false}, "axis": null}
    }},
   {"data": {"values": [{}]},
    "mark": {"type": "text", "text": ")", "align": "left", "baseline": "alphabetic", "fontSize": 60},
    "encoding": {
      "x": {"datum": 26.53, "type": "quantitative", "scale": {"domain": [-0.37, 20.99], "nice": false, "zero": false}, "axis": null},
      "y": {"datum": -0.498, "type": "quantitative", "scale": {"domain": [0.0129, 3.103], "nice": false, "zero": false}, "axis": null}
    }},
   {"data": {"values": [{}]},
    "mark": {"type": "text", "text": "Yield", "align": "left", "baseline": "alphabetic", "fontSize": 52, "font": "Liberation Serif", "fontStyle": "italic"},
    "encoding": {
      "x": {"datum": -3.786, "type": "quantitative", "scale": {"domain": [-0.37, 20.99], "nice": false, "zero": false}, "axis": null},
      "y": {"datum": -0.588, "type": "quantitative", "scale": {"domain": [0.0129, 3.103], "nice": false, "zero": false}, "axis": null}
    }}
  ]
 },
 {
  "width": 547, "height": 720,
  "resolve": {"scale": {"color": "independent", "shape": "independent", "stroke": "independent"}, "axis": {"x": "independent", "y": "independent"}},
  "layer": [
   {"data": {"values": [{}]},
    "mark": {"type": "rect", "color": "#555555", "opacity": 0.45},
    "encoding": {
      "x": {"datum": -0.36, "type": "quantitative", "scale": {"domain": [-0.794, 20.95], "nice": false, "zero": false}, "axis": null},
      "x2": {"datum": 5.53},
      "y": {"datum": 3.017, "type": "quantitative", "scale": {"domain": [0.0129, 3.103], "nice": false, "zero": false}, "axis": null},
      "y2": {"datum": 2.644}
    }},
   {"data": {"values": [{}]},
    "mark": {"type": "rect", "color": "#5D3380"},
    "encoding": {
      "x": {"datum": -0.517, "type": "quantitative", "scale": {"domain": [-0.794, 20.95], "nice": false, "zero": false}, "axis": null},
      "x2": {"datum": 5.366},
      "y": {"datum": 3.034, "type": "quantitative", "scale": {"domain": [0.0129, 3.103], "nice": false, "zero": false}, "axis": null},
      "y2": {"datum": 2.661}
    }},
   {"data": {"values": [{}]},
    "mark": {"type": "text", "text": "p-Pb", "align": "center", "baseline": "alphabetic", "fontSize": 54, "color": "white"},
    "encoding": {
      "x": {"datum": 2.425, "type": "quantitative", "scale": {"domain": [-0.794, 20.95], "nice": false, "zero": false}, "axis": null},
      "y": {"datum": 2.743, "type": "quantitative", "scale": {"domain": [0.0129, 3.103], "nice": false, "zero": false}, "axis": null}
    }},
   {"data": {"name": "r1"},
    "resolve": {"axis": {"x": "independent", "y": "independent"}},
    "layer": [
     {"mark": {"type": "rect", "filled": false, "strokeWidth": 2},
      "encoding": {
        "x": {"field": "xl", "type": "quantitative", "scale": {"domain": [-0.794, 20.95], "nice": false, "zero": false},
              "axis": {"orient": "bottom", "values": [0,5,10,15,20], "tickSize": -20, "tickWidth": 2, "labelFontSize": 38, "labelPadding": 47, "labelFlush": false, "labelOverlap": false, "domain": false, "grid": false, "title": null}},
        "x2": {"field": "xh"},
        "y": {"field": "yl", "type": "quantitative", "scale": {"domain": [0.0129, 3.103], "nice": false, "zero": false},
              "axis": {"orient": "left", "values": [1,2,3], "tickSize": -13, "tickWidth": 2, "labels": false, "domain": false, "grid": false, "title": null}},
        "y2": {"field": "yh"},
        "color": {"field": "s", "type": "nominal", "scale": {"domain": ["p + p̄", "K⁺ + K⁻", "π⁺ + π⁻"], "range": ["#CC3333", "#1DB31D", "#FF9900"]}, "legend": null}
      }},
     {"mark": {"type": "errorbar", "thickness": 2, "ticks": {"size": 7, "thickness": 2}},
      "encoding": {
        "x": {"field": "x", "type": "quantitative", "scale": {"domain": [-0.794, 20.95], "nice": false, "zero": false}, "axis": null},
        "y": {"field": "sl", "type": "quantitative", "scale": {"domain": [0.0129, 3.103], "nice": false, "zero": false}, "axis": null},
        "y2": {"field": "sh"},
        "color": {"field": "s", "type": "nominal", "scale": {"domain": ["p + p̄", "K⁺ + K⁻", "π⁺ + π⁻"], "range": ["#CC3333", "#1DB31D", "#FF9900"]}, "legend": null}
      }},
     {"mark": {"type": "point", "filled": false, "size": 200, "strokeWidth": 2, "opacity": 1},
      "encoding": {
        "x": {"field": "x", "type": "quantitative", "scale": {"domain": [-0.794, 20.95], "nice": false, "zero": false},
              "axis": {"orient": "top", "values": [0,5,10,15,20], "tickSize": -20, "tickWidth": 2, "labels": false, "domain": false, "grid": false, "title": null}},
        "y": {"field": "y", "type": "quantitative", "scale": {"domain": [0.0129, 3.103], "nice": false, "zero": false},
              "axis": {"orient": "right", "values": [1,2,3], "tickSize": -13, "tickWidth": 2, "labels": false, "domain": false, "grid": false, "title": null}},
        "stroke": {"field": "s", "type": "nominal", "scale": {"domain": ["π⁺ + π⁻", "K⁺ + K⁻", "p + p̄"], "range": ["#FF9900", "#1DB31D", "#CC3333"]},
                  "legend": {"orient": "none", "legendX": 180, "legendY": 89, "title": null, "labelFontSize": 30, "symbolSize": 200, "symbolStrokeWidth": 2, "rowPadding": 24, "labelOffset": 8, "padding": 0, "labelLimit": 300}},
        "shape": {"field": "s", "type": "nominal", "scale": {"domain": ["π⁺ + π⁻", "K⁺ + K⁻", "p + p̄"], "range": ["cross", "triangle-down", "triangle-up"]},
                  "legend": {"orient": "none", "legendX": 180, "legendY": 89, "title": null, "labelFontSize": 30, "symbolSize": 200, "symbolStrokeWidth": 2, "rowPadding": 24, "labelOffset": 8, "padding": 0, "labelLimit": 300}}
      }}
    ]},
   {"data": {"name": "r2"},
    "layer": [
     {"mark": {"type": "rect", "filled": false, "strokeWidth": 2},
      "encoding": {
        "x": {"field": "xl", "type": "quantitative", "scale": {"domain": [-0.794, 20.95], "nice": false, "zero": false}, "axis": null},
        "x2": {"field": "xh"},
        "y": {"field": "yl", "type": "quantitative", "scale": {"domain": [0.0129, 3.103], "nice": false, "zero": false}, "axis": null},
        "y2": {"field": "yh"},
        "color": {"field": "s", "type": "nominal", "scale": {"domain": ["Ω⁻ + Ω̄⁺", "Ξ⁻ + Ξ̄⁺", "ϕ", "K*⁰"], "range": ["#BB66FF", "#33EEEE", "#FF3DFF", "#1515E6"]}, "legend": null}
      }},
     {"mark": {"type": "errorbar", "thickness": 2, "ticks": {"size": 7, "thickness": 2}},
      "encoding": {
        "x": {"field": "x", "type": "quantitative", "scale": {"domain": [-0.794, 20.95], "nice": false, "zero": false}, "axis": null},
        "y": {"field": "sl", "type": "quantitative", "scale": {"domain": [0.0129, 3.103], "nice": false, "zero": false}, "axis": null},
        "y2": {"field": "sh"},
        "color": {"field": "s", "type": "nominal", "scale": {"domain": ["Ω⁻ + Ω̄⁺", "Ξ⁻ + Ξ̄⁺", "ϕ", "K*⁰"], "range": ["#BB66FF", "#33EEEE", "#FF3DFF", "#1515E6"]}, "legend": null}
      }},
     {"mark": {"type": "point", "filled": false, "size": 200, "strokeWidth": 2, "opacity": 1},
      "encoding": {
        "x": {"field": "x", "type": "quantitative", "scale": {"domain": [-0.794, 20.95], "nice": false, "zero": false}, "axis": null},
        "y": {"field": "y", "type": "quantitative", "scale": {"domain": [0.0129, 3.103], "nice": false, "zero": false}, "axis": null},
        "stroke": {"field": "s", "type": "nominal", "scale": {"domain": ["K*⁰", "ϕ", "Ξ⁻ + Ξ̄⁺", "Ω⁻ + Ω̄⁺"], "range": ["#1515E6", "#FF3DFF", "#33EEEE", "#BB66FF"]},
                  "legend": {"orient": "none", "legendX": 371, "legendY": 86, "title": null, "labelFontSize": 28, "symbolSize": 200, "symbolStrokeWidth": 2, "rowPadding": 13, "labelOffset": 8, "padding": 0, "labelLimit": 300}},
        "shape": {"field": "s", "type": "nominal", "scale": {"domain": ["K*⁰", "ϕ", "Ξ⁻ + Ξ̄⁺", "Ω⁻ + Ω̄⁺"], "range": ["circle", "M0,-1L0.235,-0.324L0.951,-0.309L0.38,0.124L0.588,0.809L0,0.4L-0.588,0.809L-0.38,0.124L-0.951,-0.309L-0.235,-0.324Z", "diamond", "M0,-1L0,1M-1,0L1,0M-0.7,-0.7L0.7,0.7M-0.7,0.7L0.7,-0.7"]},
                  "legend": {"orient": "none", "legendX": 371, "legendY": 86, "title": null, "labelFontSize": 28, "symbolSize": 200, "symbolStrokeWidth": 2, "rowPadding": 13, "labelOffset": 8, "padding": 0, "labelLimit": 300}}
      }}
    ]},
   {"data": {"values": [{}]},
    "mark": {"type": "rule", "color": "black", "strokeWidth": 3.5, "strokeDash": [6, 4]},
    "encoding": {
      "x": {"datum": 0.6, "type": "quantitative", "scale": {"domain": [-0.794, 20.95], "nice": false, "zero": false}, "axis": null},
      "x2": {"datum": 20.95},
      "y": {"datum": 1, "type": "quantitative", "scale": {"domain": [0.0129, 3.103], "nice": false, "zero": false}, "axis": null}
    }},
   {"data": {"values": [{}]},
    "mark": {"type": "rect", "color": "black"},
    "encoding": {
      "x": {"datum": -0.01, "type": "quantitative", "scale": {"domain": [-0.794, 20.95], "nice": false, "zero": false}, "axis": null},
      "x2": {"datum": 0.52},
      "y": {"datum": 0.963, "type": "quantitative", "scale": {"domain": [0.0129, 3.103], "nice": false, "zero": false}, "axis": null},
      "y2": {"datum": 1.043}
    }},
   {"data": {"values": [{}]},
    "mark": {"type": "rule", "color": "black", "strokeWidth": 1.5},
    "encoding": {
      "x": {"datum": 7.62, "type": "quantitative", "scale": {"domain": [-0.794, 20.95], "nice": false, "zero": false}, "axis": null},
      "x2": {"datum": 8.4},
      "y": {"datum": 2.966, "type": "quantitative", "scale": {"domain": [0.0129, 3.103], "nice": false, "zero": false}, "axis": null}
    }},
   {"data": {"values": [{}]},
    "mark": {"type": "text", "text": "√", "align": "left", "baseline": "alphabetic", "fontSize": 30},
    "encoding": {
      "x": {"datum": 7.076, "type": "quantitative", "scale": {"domain": [-0.794, 20.95], "nice": false, "zero": false}, "axis": null},
      "y": {"datum": 2.876, "type": "quantitative", "scale": {"domain": [0.0129, 3.103], "nice": false, "zero": false}, "axis": null}
    }},
   {"data": {"values": [{}]},
    "mark": {"type": "text", "text": "s", "align": "left", "baseline": "alphabetic", "fontSize": 29, "fontStyle": "italic"},
    "encoding": {
      "x": {"datum": 7.78, "type": "quantitative", "scale": {"domain": [-0.794, 20.95], "nice": false, "zero": false}, "axis": null},
      "y": {"datum": 2.876, "type": "quantitative", "scale": {"domain": [0.0129, 3.103], "nice": false, "zero": false}, "axis": null}
    }},
   {"data": {"values": [{}]},
    "mark": {"type": "text", "text": "NN", "align": "left", "baseline": "alphabetic", "fontSize": 15},
    "encoding": {
      "x": {"datum": 8.48, "type": "quantitative", "scale": {"domain": [-0.794, 20.95], "nice": false, "zero": false}, "axis": null},
      "y": {"datum": 2.837, "type": "quantitative", "scale": {"domain": [0.0129, 3.103], "nice": false, "zero": false}, "axis": null}
    }},
   {"data": {"values": [{}]},
    "mark": {"type": "text", "text": "= 5.02 TeV", "align": "left", "baseline": "alphabetic", "fontSize": 29},
    "encoding": {
      "x": {"datum": 9.6, "type": "quantitative", "scale": {"domain": [-0.794, 20.95], "nice": false, "zero": false}, "axis": null},
      "y": {"datum": 2.876, "type": "quantitative", "scale": {"domain": [0.0129, 3.103], "nice": false, "zero": false}, "axis": null}
    }}
  ]
 }
]
}
